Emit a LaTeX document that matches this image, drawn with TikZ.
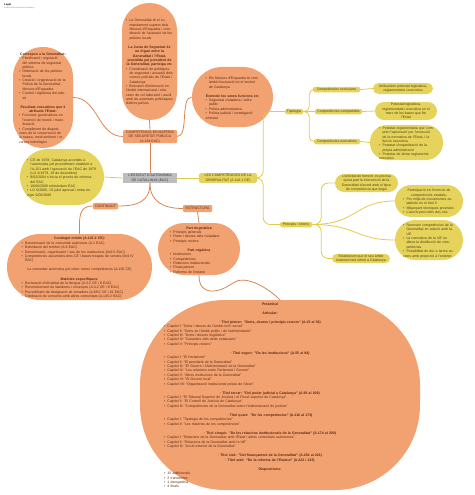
\documentclass[tikz,border=0pt]{standalone}
\usepackage{fontspec}
\setmainfont{Liberation Sans}
\usepackage{xcolor}
\usepackage{tikz}
\usetikzlibrary{calc}

\definecolor{obg}{HTML}{F2A170}
\definecolor{oline}{HTML}{DC8550}
\definecolor{otxt}{HTML}{5A2A12}
\definecolor{ybg}{HTML}{E6D35C}
\definecolor{yline}{HTML}{E2CC4C}
\definecolor{ytxt}{HTML}{4A4210}
\definecolor{gbg}{HTML}{BDBDBD}

\setlength\parindent{0pt}
\newcommand\bl{\par\leavevmode\hangindent=3.5pt\hangafter=1\hbox to 3.5pt{\textbullet\hfil}}
\newcommand\hd[1]{\par{\centering\textbf{#1}\par}}
\newcommand\ct[1]{\par{\centering #1\par}}
\newcommand\gap{\par\vspace{4.9pt}}

\begin{document}
\begin{tikzpicture}[x=1pt,y=-1pt,
  every node/.style={font=\fontsize{3.5}{4.35}\selectfont, inner sep=0pt},
  obub/.style={fill=obg, text=otxt, align=left},
  ybub/.style={fill=ybg, text=ytxt, align=left},
  otag/.style={fill=obg, text=otxt, align=center, rounded corners=1pt},
  ytag/.style={fill=ybg, text=ytxt, align=center, rounded corners=1.5pt},
  olink/.style={draw=oline, line width=0.8pt},
  ylink/.style={draw=yline, line width=0.8pt}]
  \useasboundingbox (0,0) rectangle (474,495);

  % title
  \node[anchor=north west, font=\fontsize{2.6}{3}\selectfont\bfseries] (ttl) at (4,3) {Legal};
  \node[anchor=north west, font=\fontsize{2}{2.5}\selectfont, text=gray] (sub) at (4,7) {Estatut d'Autonomia de Catalunya};

  % seguretat publica
  \node[obub, minimum width=60pt, minimum height=101pt, text width=48pt, rounded corners=30pt] (seg) at (43,97.5) {%
    \hd{Correspon a la Generalitat:}
    \bl Planificació i regulació del sistema de seguretat pública
    \bl Ordenació de les policies locals
    \bl Creació i organització de la Policia de la Generalitat - Mossos d'Esquadra
    \bl Control i vigilància del trànsit\gap
    \hd{Facultats executives que li atribueix l'Estat:}
    \bl Funcions governatives en l'exercici de reunió i manifestació
    \bl Compliment de disposicions de la conservació de la natura, medi ambient i recursos hidrològics};
  \node[obub, minimum width=55pt, minimum height=117pt, text width=47pt, rounded corners=27pt] (junta) at (149.5,61.5) {%
    \bl La Generalitat té el comandament suprem dels Mossos d'Esquadra i coordinació de l'actuació de les policies locals\gap
    \hd{La Junta de Seguretat és un òrgan entre la Generalitat i l'Estat, presidida pel president de la Generalitat, participa en:}
    \bl Coordinació de polítiques de seguretat i actuació dels cossos policials de l'Estat i Catalunya
    \bl Bescanvi d'informació en l'àmbit internacional i relacions de col·laboració i auxili amb les autoritats policíaques d'altres països};
  \node[obub, minimum width=81pt, minimum height=60pt, text width=54pt, rounded corners=30pt] (mossos) at (232.5,97) {%
    \bl Els Mossos d'Esquadra té com àmbit d'actuació tot el territori de Catalunya\gap
    \hd{Exerceix les seves funcions en:}
    \bl Seguretat ciutadana i ordre públic
    \bl Policia administrativa
    \bl Policia judicial i investigació criminal};
  \node[otag, minimum width=54pt, minimum height=13pt] (compseg) at (150,136.5)
    {COMPETÈNCIA EN MATÈRIA\\DE SEGURETAT PÚBLICA\\(A.164 EAC)};

  % centre
  \node[fill=gbg, text=black!80, align=center, minimum width=54pt, minimum height=10pt] (eac) at (150,178)
    {L'ESTATUT D'AUTONOMIA\\DE CATALUNYA (EAC)};
  \node[ytag, minimum width=58pt, minimum height=10pt] (comps) at (228,178)
    {LES COMPETÈNCIES DE LA\\GENERALITAT (A.110-1 CE)};
  \node[ybub, minimum width=84pt, minimum height=56pt, text width=70pt, rounded corners=28pt] (hist) at (62,177) {%
    \bl CE de 1978, Catalunya accedeix a l'autonomia pel procediment establert a l'A.151 amb l'aprovació de l'EAC de 1979 (LO 4/1979, 18 de desembre)
    \bl 9/02/2004 s'inicia el procés de reforma del EAC
    \bl 18/06/2006 referèndum EAC
    \bl LO 6/2006, 19 juliol aprovat i entra en vigor 9/08/2006};
  \node[otag, minimum width=25pt, minimum height=6.5pt] (contg) at (105.5,206) {CONTINGUT};
  \node[otag, minimum width=29pt, minimum height=7pt] (estr) at (197.5,208.5) {ESTRUCTURA};

  % contingut
  \node[obub, minimum width=145pt, minimum height=66pt, text width=116pt, rounded corners=33pt] (cont) at (79.5,267) {%
    \hd{Contingut mínim (A.147.2 CE):}
    \bl Denominació de la comunitat autònoma (A.1 EAC)
    \bl Delimitació del territori (A.9 EAC)
    \bl Denominació, organització i seu de les institucions (títol II EAC)
    \bl Competències assumides dins CE i bases traspàs de serveis (títol IV EAC)\gap
    \ct{La comunitat autònoma pot rebre noves competències (A.150 CE)}\gap
    \hd{Matèries específiques:}
    \bl Declaració d'oficialitat de la llengua (A.3.2 CE i 6 EAC)
    \bl Reconeixement de banderes i ensenyes (A.4.2 CE i 8 EAC)
    \bl Procediment de designació de senadors (A.69.5 CE i 61 EAC)
    \bl Celebració de convenis amb altres comunitats (A.145.2 EAC)};

  % estructura
  \node[obub, minimum width=82pt, minimum height=52pt, text width=58pt, rounded corners=26pt] (parts) at (199,249) {%
    \hd{Part dogmàtica}
    \bl Principis generals
    \bl Drets i deures dels ciutadans
    \bl Principis rectors\gap
    \hd{Part orgànica}
    \bl Institucions
    \bl Competències
    \bl Relacions institucionals
    \bl Finançament
    \bl Reforma de l'estatut};
  \node[fill=obg, minimum width=280pt, minimum height=190pt, rounded corners=85pt] (art) at (280,395) {};
  \node[text=otxt, text width=212pt, align=left, anchor=north] (arttxt) at (270,300.5) {%
    \hd{Preàmbul}\gap
    \hd{Articulat:}\gap
    \hd{· Títol primer: "Drets, deures i principis rectors" (A.15 al 54)}
    \bl Capítol I: "Drets i deures de l'àmbit civil i social"
    \bl Capítol II: "Drets en l'àmbit polític i de l'administració"
    \bl Capítol III: "Drets i deures lingüístics"
    \bl Capítol IV: "Garanties dels drets estatutaris"
    \bl Capítol V: "Principis rectors"\gap
    \hd{· Títol segon: "De les institucions" (A.55 al 94)}
    \bl Capítol I: "El Parlament"
    \bl Capítol II: "El president de la Generalitat"
    \bl Capítol III: "El Govern i l'Administració de la Generalitat"
    \bl Capítol IV: "Les relacions entre Parlament i Govern"
    \bl Capítol V: "Altres institucions de la Generalitat"
    \bl Capítol VI: "El Govern local"
    \bl Capítol VII: "Organització institucional pròpia de l'Aran"\gap
    \hd{· Títol tercer: "Del poder judicial a Catalunya" (A.95 al 109)}
    \bl Capítol I: "El Tribunal Superior de Justícia i el Fiscal superior de Catalunya"
    \bl Capítol II: "El Consell de Justícia de Catalunya"
    \bl Capítol III: "Competències de la Generalitat sobre l'Administració de justícia"\gap
    \hd{· Títol quart: "De les competències" (A.110 al 173)}
    \bl Capítol I: "Tipologia de les competències"
    \bl Capítol II: "Les matèries de les competències"\gap
    \hd{· Títol cinquè: "De les relacions institucionals de la Generalitat" (A.174 al 200)}
    \bl Capítol I: "Relacions de la Generalitat amb l'Estat i altres comunitats autònomes"
    \bl Capítol II: "Relacions de la Generalitat amb la UE"
    \bl Capítol III: "Acció exterior de la Generalitat"\gap
    \hd{· Títol sisè: "Del finançament de la Generalitat" (A.201 al 221)}
    \hd{· Títol setè: "De la reforma de l'Estatut" (A.222 i 223)}\gap
    \hd{Disposicions:}
    \bl 15 addicionals
    \bl 2 transitòries
    \bl 1 derogatòria
    \bl 4 finals};

  % competencies
  \node[ytag, minimum width=18pt, minimum height=5.5pt] (tip) at (294,111.5) {Tipologia};
  \node[ytag, minimum width=47pt, minimum height=5.5pt] (excl) at (336.5,89.5) {Competències exclusives};
  \node[ytag, minimum width=47pt, minimum height=5.5pt] (compart) at (338.5,111.5) {Competències compartides};
  \node[ytag, minimum width=46pt, minimum height=5.5pt] (exec) at (337,141.5) {Competències executives};
  \node[ybub, align=center, minimum width=60pt, minimum height=11pt, rounded corners=5.5pt] (b1) at (403,88.5)
    {Atribueixen potestat legislativa,\\reglamentària i executiva};
  \node[ybub, align=center, minimum width=62pt, minimum height=18pt, rounded corners=9pt] (b2) at (406,111)
    {Potestat legislativa,\\reglamentària i executiva en el\\marc de les bases que fixi\\l'Estat};
  \node[ybub, minimum width=73pt, minimum height=35pt, text width=55pt, rounded corners=17pt] (b3) at (406.5,142.5) {%
    \bl Potestat reglamentària que comprèn l'aprovació per l'execució de la normativa de l'Estat, i la funció executiva
    \bl Potestat d'organització de la pròpia administració
    \bl Potestat de dictar reglaments executius};
  \node[ytag, minimum width=32pt, minimum height=5.5pt] (princ) at (296,224.5) {Principis i criteris};
  \node[ybub, align=center, minimum width=63pt, minimum height=18pt, rounded corners=9pt] (bA) at (366.5,183)
    {L'activitat de foment, es precisa\\quina part la intervenció de la\\Generalitat d'acord amb el tipus\\de competència que tingui};
  \node[ybub, minimum width=68pt, minimum height=32pt, text width=52pt, rounded corners=16pt] (bB) at (429,201) {%
    \ct{Participació en l'exercici de competències estatals:}
    \bl Per mitjà de mecanismes establerts en el títol V
    \bl Mitjançant tècniques previstes
    \bl L'acord previ dels dos ens};
  \node[ybub, minimum width=68pt, minimum height=40pt, text width=52pt, rounded corners=20pt] (bC) at (429,240) {%
    \bl Reconeix competències de la Generalitat en relació amb la UE
    \bl La normativa de la UE no altera la distribució de competències
    \bl Possibilitat de dur a terme accions amb projecció a l'exterior};
  \node[ybub, align=center, minimum width=58pt, minimum height=9pt, rounded corners=4.5pt] (bD) at (361,258.5)
    {Estableixen que el seu àmbit\\material està referit a Catalunya};

  % connectors
  \draw[olink] (seg.east) .. controls +(25,0) and +(-25,0) .. (compseg.west);
  \draw[olink] (junta.south) -- (compseg.north);
  \draw[olink] (mossos.west) .. controls +(-12,0) and +(12,0) .. (compseg.east);
  \draw[olink] (compseg.south) -- (eac.north);
  \draw[ylink] (hist.east) -- (eac.west);
  \draw[ylink] (eac.east) -- (comps.west);
  \draw[olink] (eac.south) .. controls +(0,18) and +(20,0) .. (contg.east);
  \draw[olink] (eac.south) .. controls +(0,18) and +(-20,0) .. (estr.west);
  \draw[olink] (contg.west) .. controls +(-15,0) and +(0,-15) .. (cont.north);
  \draw[olink] (estr.south) -- (parts.north);
  \coordinate (wave) at (233,283);
  \draw[olink] (parts.south) .. controls +(0,22) and +(-14,10) .. (wave) .. controls +(12,-9) and +(-12,-12) .. (art.north);

  \draw[ylink, rounded corners=7pt] (comps.east) -- ++(6,0) |- (tip.west);
  \draw[ylink, rounded corners=7pt] (comps.east) -- ++(6,0) |- (princ.west);
  \draw[ylink, rounded corners=5pt] (tip.east) -- ++(6,0) |- (excl.west);
  \draw[ylink] (tip.east) -- (compart.west);
  \draw[ylink, rounded corners=5pt] (tip.east) -- ++(6,0) |- (exec.west);
  \draw[ylink] (excl.east) -- (b1.west);
  \draw[ylink] (compart.east) -- (b2.west);
  \draw[ylink] (exec.east) -- (b3.west);
  \draw[ylink, rounded corners=7pt] (princ.east) -- ++(9,0) |- (bA.west);
  \draw[ylink] (princ.east) .. controls +(45,0) and +(-40,0) .. (bB.west);
  \draw[ylink] (princ.east) .. controls +(45,0) and +(-40,0) .. (bC.west);
  \draw[ylink, rounded corners=7pt] (princ.east) -- ++(9,0) |- (bD.west);
\end{tikzpicture}
\end{document}
